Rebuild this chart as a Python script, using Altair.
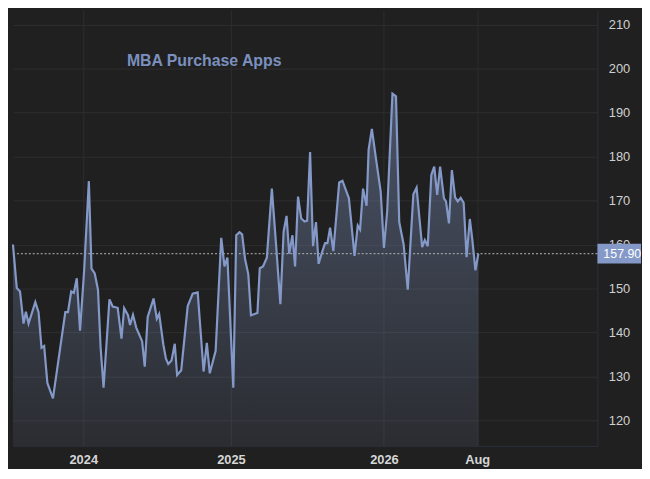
import altair as alt
import pandas as pd

# Weekly index position (weeks from left edge of view) and index value
week = [0.0, 1.3, 2.4, 3.6, 4.4, 5.3, 7.6, 8.7, 9.7, 10.6, 11.7, 13.6, 15.6, 17.8, 18.7,
        19.8, 20.7, 21.7, 22.8, 24.2, 25.8, 26.7, 27.8, 28.9, 29.8, 30.8, 32.8, 33.9, 35.6,
        36.9, 37.8, 39.1, 39.8, 40.8, 41.9, 43.9, 44.8, 45.8, 47.8, 48.9, 49.7, 51.1, 52.0,
        52.8, 53.9, 55.0, 55.8, 57.2, 59.4, 61.1, 62.8, 64.8, 65.9, 66.9, 68.9, 70.8, 71.9,
        72.9, 74.9, 75.9, 77.0, 77.9, 78.9, 80.0, 80.9, 83.1, 83.9, 85.0, 86.3, 88.0, 89.4,
        90.9, 92.0, 93.0, 93.9, 95.0, 95.9, 96.9, 98.0, 99.1, 100.0, 101.0, 102.0, 103.0,
        103.9, 105.0, 106.1, 106.9, 107.8, 108.9, 110.9, 112.0, 114.2, 116.1, 117.2, 118.0,
        119.0, 120.2, 120.9, 122.0, 123.3, 125.0, 126.1, 127.2, 129.0, 130.2, 131.3, 132.8,
        134.2, 136.1, 137.2, 139.1, 140.0, 141.0, 142.2, 143.2, 144.2, 145.2, 146.5, 147.2,
        148.2, 149.2, 150.3, 151.2, 152.2, 153.2, 154.2, 155.3, 156.1, 157.2, 158.2]
apps = [160.0, 150.1, 149.3, 142.0, 144.7, 142.0, 146.9, 144.6, 136.5, 136.9, 128.5, 125.0,
        134.3, 144.6, 144.6, 149.3, 149.0, 152.3, 140.4, 154.1, 174.4, 154.5, 153.4, 149.7,
        136.5, 127.4, 147.5, 145.9, 145.6, 138.6, 145.5, 143.9, 141.7, 144.0, 141.1, 138.0,
        132.2, 143.5, 147.7, 143.1, 144.2, 137.3, 134.0, 132.8, 133.6, 137.4, 130.3, 131.4,
        146.0, 148.8, 149.1, 131.1, 137.6, 130.7, 135.8, 161.5, 155.0, 157.0, 127.4, 162.1,
        162.8, 162.3, 156.7, 153.2, 143.9, 144.4, 154.6, 155.0, 157.0, 172.7, 160.3, 146.4,
        162.9, 166.5, 157.9, 162.1, 155.0, 170.9, 165.9, 165.2, 165.4, 181.0, 159.6, 165.1,
        155.6, 158.1, 160.3, 160.3, 163.8, 158.5, 174.1, 174.5, 170.5, 157.4, 164.3, 163.4,
        172.7, 168.8, 181.6, 186.3, 180.0, 172.0, 159.2, 167.5, 194.3, 193.7, 165.1, 160.0,
        149.7, 171.4, 172.9, 159.4, 161.0, 159.6, 175.8, 177.7, 171.3, 177.7, 170.5, 169.8,
        164.8, 176.9, 170.7, 169.8, 170.6, 169.5, 157.1, 165.8, 161.4, 154.1, 157.9]

tick_weeks = [23.9, 74.1, 126.1, 157.8]
tick_labels = ["2024", "2025", "2026", "Aug"]
y_ticks = [120, 130, 140, 150, 160, 170, 180, 190, 200, 210]
last_value = 157.90
title_text = "MBA Purchase Apps"

Y_MIN, Y_MAX = 114.15, 213.3
X_MAX = 198.67
W, H = 590, 440

BG = "#202020"
LINE = "#8499c8"
GRID = "#2e2e2e"
AXIS = "#2b2f3d"
FONT = "Liberation Sans"

df = pd.DataFrame({"week": week, "apps": apps})

# label expression for the x ticks
expr = "'" + tick_labels[-1] + "'"
for v, lab in reversed(list(zip(tick_weeks[:-1], tick_labels[:-1]))):
    expr = f"datum.value < {v + 1} ? '{lab}' : " + expr

xs = alt.X("week:Q",
           scale=alt.Scale(domain=[0, X_MAX], nice=False, zero=False),
           axis=alt.Axis(values=tick_weeks, labelExpr=expr, title=None, ticks=False,
                         grid=True, gridColor=GRID, domainColor=AXIS, labelColor="#d6d6d6",
                         labelFontSize=13, labelFontWeight="bold", labelFont=FONT,
                         labelPadding=8, labelFlush=False))
ys = alt.Y("apps:Q",
           scale=alt.Scale(domain=[Y_MIN, Y_MAX], nice=False, zero=False),
           axis=alt.Axis(orient="right", values=y_ticks, title=None, ticks=False,
                         grid=True, gridColor=GRID, domainColor=AXIS, labelColor="#d0d0d0",
                         labelFontSize=13, labelFont=FONT, labelPadding=11,
                         labelFlush=False))

gradient = alt.Gradient(
    gradient="linear", x1=0, y1=0, x2=0, y2=1,
    stops=[alt.GradientStop(color="rgba(132,153,200,0.42)", offset=0),
           alt.GradientStop(color="rgba(132,153,200,0.10)", offset=1)])

base = alt.Chart(df)
area = base.mark_area(color=gradient).encode(x=xs, y=ys, y2=alt.datum(Y_MIN))
line = base.mark_line(color=LINE, strokeWidth=2.2).encode(x="week:Q", y="apps:Q")

one = alt.Data(values=[{"v": last_value, "t": title_text}])
rule = alt.Chart(one).mark_rule(color="#b8b8b8", strokeDash=[2, 2], strokeWidth=1).encode(
    y=alt.Y("v:Q"))
box = alt.Chart(one).mark_rect(color=LINE).encode(
    x=alt.value(W), x2=alt.value(W + 44),
    y=alt.datum(last_value + 2.25), y2=alt.datum(last_value - 2.25))
box_text = alt.Chart(one).mark_text(align="left", baseline="middle", color="#ffffff",
                                    fontSize=12.5, font=FONT).encode(
    x=alt.value(W + 6), y=alt.Y("v:Q"), text=alt.Text("v:Q", format=".2f"))
title = alt.Chart(one).mark_text(align="left", baseline="middle", color="#7b90bf",
                                 fontSize=16, fontWeight="bold", font=FONT).encode(
    x=alt.value(115), y=alt.value(51), text="t:N")

chart = alt.layer(area, rule, line, box, box_text, title).properties(
    width=W, height=H, padding=0, background=BG
).configure_view(stroke=None)

chart.save("out.html", embed_options={"renderer": "svg", "actions": False})
